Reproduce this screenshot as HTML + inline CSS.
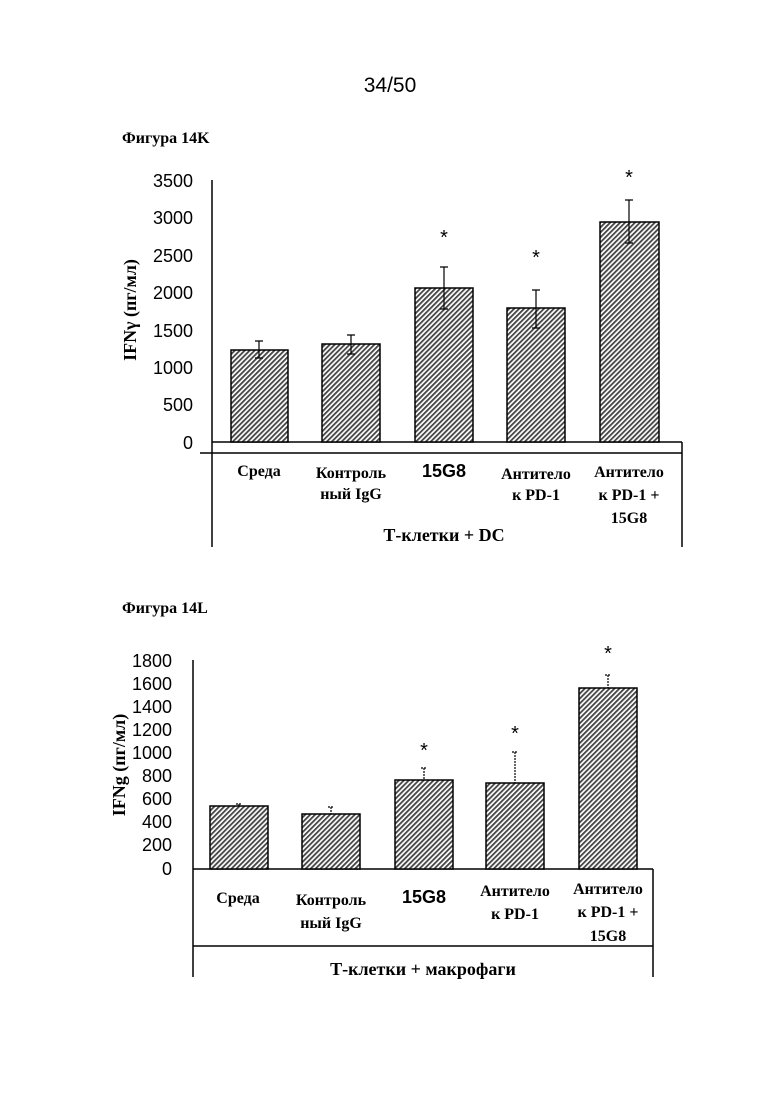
<!DOCTYPE html>
<html><head><meta charset="utf-8"><style>
html,body{margin:0;padding:0;background:#fff;}
svg{display:block;}
.s{font-family:"Liberation Sans",sans-serif;}
.r{font-family:"Liberation Serif",serif;font-weight:bold;}
</style></head><body>
<svg width="780" height="1103" viewBox="0 0 780 1103" xmlns="http://www.w3.org/2000/svg">
<defs>
<pattern id="h" patternUnits="userSpaceOnUse" width="3.5" height="3.5" patternTransform="rotate(45)">
<rect width="3.5" height="3.5" fill="#fff"/><rect width="1.8" height="3.5" fill="#444"/>
</pattern>
</defs>
<text x="390" y="92" class="s" font-size="21" text-anchor="middle">34/50</text>
<text x="122" y="143" class="r" font-size="16">Фигура 14K</text>
<text x="122" y="613" class="r" font-size="16">Фигура 14L</text>

<!-- Chart 1 -->
<g class="s" font-size="18" text-anchor="end">
<text x="193" y="187">3500</text><text x="193" y="224">3000</text><text x="193" y="262">2500</text>
<text x="193" y="299">2000</text><text x="193" y="337">1500</text><text x="193" y="374">1000</text>
<text x="193" y="411">500</text><text x="193" y="449">0</text>
</g>
<text transform="translate(136,310) rotate(-90)" class="r" font-size="18" text-anchor="middle">IFNγ (пг/мл)</text>
<line x1="212" y1="180" x2="212" y2="547" stroke="#000" stroke-width="1.5"/>
<line x1="682" y1="442" x2="682" y2="547" stroke="#000" stroke-width="1.5"/>
<line x1="212" y1="442" x2="682" y2="442" stroke="#000" stroke-width="1.5"/>
<line x1="200" y1="453" x2="682" y2="453" stroke="#000" stroke-width="1.5"/>
<g fill="url(#h)" stroke="#000" stroke-width="1.5">
<rect x="231" y="350" width="57" height="92"/>
<rect x="322" y="344" width="58" height="98"/>
<rect x="415" y="288" width="58" height="154"/>
<rect x="507" y="308" width="58" height="134"/>
<rect x="600" y="222" width="59" height="220"/>
</g>
<g stroke="#000" stroke-width="1.2">
<path d="M259 341V358M255 341H263M255 358H263"/>
<path d="M351 335V354M347 335H355M347 354H355"/>
<path d="M444 267V309M440 267H448M440 309H448"/>
<path d="M536 290V328M532 290H540M532 328H540"/>
<path d="M629 200V243M625 200H633M625 243H633"/>
</g>
<g class="s" font-size="20" text-anchor="middle">
<text x="444" y="244">*</text><text x="536" y="264">*</text><text x="629" y="184">*</text>
</g>
<g class="r" font-size="16" text-anchor="middle">
<text x="259" y="476">Среда</text>
<text x="351" y="478">Контроль</text><text x="351" y="499">ный IgG</text>
<text x="536" y="479">Антитело</text><text x="536" y="500">к PD-1</text>
<text x="629" y="477">Антитело</text><text x="629" y="500">к PD-1 +</text><text x="629" y="523">15G8</text>
<text x="444" y="541" font-size="18">Т-клетки + DC</text>
</g>
<text x="444" y="477" class="s" font-size="18" font-weight="bold" text-anchor="middle">15G8</text>

<!-- Chart 2 -->
<g class="s" font-size="18" text-anchor="end">
<text x="172" y="667">1800</text><text x="172" y="690">1600</text><text x="172" y="713">1400</text>
<text x="172" y="736">1200</text><text x="172" y="759">1000</text><text x="172" y="782">800</text>
<text x="172" y="805">600</text><text x="172" y="828">400</text><text x="172" y="851">200</text>
<text x="172" y="875">0</text>
</g>
<text transform="translate(125,765) rotate(-90)" class="r" font-size="18" text-anchor="middle">IFNg (пг/мл)</text>
<line x1="193" y1="660" x2="193" y2="977" stroke="#000" stroke-width="1.5"/>
<line x1="653" y1="869" x2="653" y2="977" stroke="#000" stroke-width="1.5"/>
<line x1="193" y1="869" x2="653" y2="869" stroke="#000" stroke-width="1.5"/>
<line x1="193" y1="946" x2="653" y2="946" stroke="#000" stroke-width="1.5"/>
<g fill="url(#h)" stroke="#000" stroke-width="1.5">
<rect x="210" y="806" width="58" height="63"/>
<rect x="302" y="814" width="58" height="55"/>
<rect x="395" y="780" width="58" height="89"/>
<rect x="486" y="783" width="58" height="86"/>
<rect x="579" y="688" width="58" height="181"/>
</g>
<g stroke="#000" stroke-width="1.2" stroke-dasharray="2 1">
<path d="M239 804V806M236 804H242"/>
<path d="M331 807V814M328 807H334"/>
<path d="M424 768V780M421 768H427"/>
<path d="M515 752V783M512 752H518"/>
<path d="M608 675V688M605 675H611"/>
</g>
<g class="s" font-size="20" text-anchor="middle">
<text x="424" y="757">*</text><text x="515" y="740">*</text><text x="608" y="660">*</text>
</g>
<g class="r" font-size="16" text-anchor="middle">
<text x="238" y="903">Среда</text>
<text x="331" y="905">Контроль</text><text x="331" y="928">ный IgG</text>
<text x="515" y="896">Антитело</text><text x="515" y="919">к PD-1</text>
<text x="608" y="894">Антитело</text><text x="608" y="917">к PD-1 +</text><text x="608" y="941">15G8</text>
<text x="423" y="975" font-size="18">Т-клетки + макрофаги</text>
</g>
<text x="424" y="903" class="s" font-size="18" font-weight="bold" text-anchor="middle">15G8</text>
</svg>
</body></html>
